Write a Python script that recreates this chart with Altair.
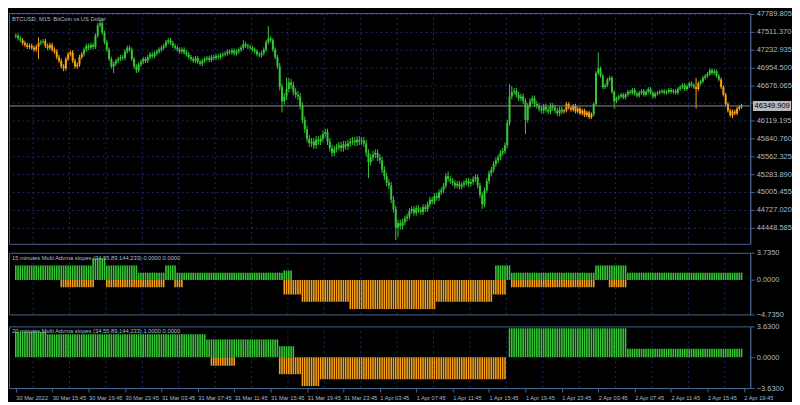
import altair as alt
import pandas as pd

# ---------------- data ----------------
first_open = 47440
closes = [
    47452, 47408, 47379,
    47335, 47305, 47276, 47291, 47261, 47232, 47276,
    47335,
    47349, 47364,
    47291, 47261, 47305, 47232, 47202,
    47114, 47056, 46968, 46938,
    47085, 47158, 47188,
    47056, 46968, 46997,
    47114, 47158,
    47232, 47291, 47261, 47305, 47276,
    47452, 47613, 47643,
    47496, 47349, 47232,
    47085, 46968, 47012, 47056,
    47085, 47114, 47100,
    47202, 47261, 47232,
    47085, 46968, 46909,
    46997, 47041, 47085, 47056,
    47114, 47158, 47129, 47173,
    47202, 47232, 47261, 47291,
    47349, 47379, 47335,
    47291, 47261, 47232, 47202, 47232, 47188, 47158,
    47114, 47085, 47056, 47100, 47041, 47012,
    47056, 47085, 47100, 47070, 47114, 47100, 47129, 47114, 47144, 47158,
    47173, 47202, 47188, 47217, 47173, 47202, 47232, 47261,
    47320, 47291, 47276, 47261, 47232, 47202,
    47158, 47144, 47173, 47232,
    47349, 47408, 47379,
    47232, 47114, 46968,
    46645, 46424, 46498,
    46615, 46718, 46674,
    46571, 46527, 46498,
    46351, 46131, 45984,
    45837, 45764, 45793, 45734, 45823,
    45793, 45837, 45911, 45940, 45793,
    45690, 45617, 45676,
    45705, 45734, 45690, 45749, 45720,
    45764, 45793, 45808, 45778, 45823, 45793, 45808, 45764,
    45617, 45470, 45544,
    45588, 45617, 45544, 45500,
    45353, 45250, 45147, 45103,
    44883, 44736,
    44443, 44516,
    44472, 44531, 44589, 44619,
    44707, 44736, 44677, 44751, 44722, 44692, 44766, 44736,
    44810, 44883, 44854, 44942, 44912, 45000, 45030, 45103,
    45250, 45206, 45177,
    45147, 45103, 45133, 45089, 45118, 45147, 45177, 45133, 45162,
    45206, 45235,
    45103, 44956, 44810,
    45030, 45177, 45294, 45353, 45441, 45500,
    45544, 45617, 45646, 45734,
    46087, 46498,
    46571, 46586,
    46527, 46468, 46498, 46424,
    46131,
    46351, 46424, 46468, 46380,
    46351, 46307, 46278, 46336, 46292, 46263, 46351,
    46322, 46278, 46234, 46292, 46263,
    46278, 46380, 46322, 46292, 46351, 46263, 46307, 46234, 46278, 46204, 46248, 46175, 46219,
    46380,
    46865, 46938, 46821,
    46645, 46674,
    46762, 46791,
    46571, 46424,
    46468, 46498, 46527, 46483,
    46527, 46571, 46557, 46601, 46542, 46512, 46557, 46586, 46527, 46571, 46615, 46557, 46498, 46542,
    46557, 46571, 46586, 46557, 46571, 46601, 46571, 46586, 46557, 46615,
    46645, 46674, 46615, 46659, 46703, 46674, 46645,
    46615, 46703,
    46733, 46791, 46821, 46850, 46909, 46865, 46894, 46821, 46762,
    46645, 46527, 46380, 46278,
    46204, 46263, 46234, 46307, 46336, 46349.909,
]
# notable wick extremes
wick_highs = {10: 47423, 36: 47650, 37: 47702, 67: 47408, 100: 47379, 111: 47599,
              119: 46791, 120: 46791, 136: 45984, 190: 45323, 217: 46689, 218: 46660,
              256: 47188, 299: 46791, 305: 46938}
wick_lows = {10: 47085, 21: 46894, 43: 46865, 53: 46865, 117: 46248, 155: 45221,
             167: 44252, 168: 44300, 205: 44736, 224: 45911, 263: 46307, 299: 46307,
             315: 46160}
# typical wick length (price units) per stretch of candles (start, end, length)
wick_runs = [(0, 115, 35), (116, 170, 55), (171, 215, 45), (216, 240, 45), (241, 319, 30)]
# colour state runs of the candles (start, end, state)
candle_runs = [(0, 2, "g"), (3, 10, "o"), (11, 12, "g"), (13, 29, "o"), (30, 240, "g"),
               (241, 253, "o"), (254, 298, "g"), (299, 300, "o"), (301, 309, "g"),
               (310, 319, "o")]

last_price = 46349.909
price_ticks = [47789.805, 47511.370, 47232.935, 46954.500, 46676.065, 46397.630,
               46119.195, 45840.760, 45562.325, 45283.890, 45005.455, 44727.020, 44448.585]

# sub-window histograms (start, end, value)
up1_runs = [(0, 33, 2), (34, 39, 3), (40, 53, 2), (54, 65, 1), (66, 70, 2), (71, 117, 1),
            (118, 121, 1.3), (211, 217, 2), (218, 254, 1), (255, 268, 2), (269, 319, 1)]
dn1_runs = [(20, 34, -1), (40, 65, -1), (70, 73, -1), (118, 125, -2), (126, 146, -3),
            (147, 184, -4), (185, 209, -3), (210, 215, -2), (218, 254, -1), (261, 268, -1)]
up2_runs = [(0, 13, 3), (14, 83, 2.7), (84, 115, 2.1), (116, 122, 1.3), (217, 268, 3.4),
            (269, 319, 1)]
dn2_runs = [(86, 96, -1), (116, 125, -2), (126, 133, -3.4), (134, 215, -2.6)]

sub1_ticks = [3.735, 0.0, -4.735]
sub2_ticks = [3.63, 0.0, -3.63]
sub1_title = "15 minutes Multi Advma slopes (34,55,89,144,233) 0.0000 0.0000"
sub2_title = "20 minutes Multi Advma slopes (34,55,89,144,233) 1.0000 0.0000"
main_title = "BTCUSD, M15:  BitCoin vs US Dollar"

x_labels = ["30 Mar 2022", "30 Mar 15:45", "30 Mar 19:45", "30 Mar 23:45", "31 Mar 03:45",
            "31 Mar 07:45", "31 Mar 11:45", "31 Mar 15:45", "31 Mar 19:45", "31 Mar 23:45",
            "1 Apr 03:45", "1 Apr 07:45", "1 Apr 11:45", "1 Apr 15:45", "1 Apr 19:45",
            "1 Apr 23:45", "2 Apr 03:45", "2 Apr 07:45", "2 Apr 11:45", "2 Apr 15:45",
            "2 Apr 19:45"]
x_label_pos = [16 * k for k in range(len(x_labels))]
grid_pos = [7.6 + 16 * k for k in range(20)]

# ---------------- style ----------------
W = 745
H_MAIN = 232
H_SUB = 62
BG = "#000000"
FRAME = "#46668c"
GRID = "#1c2a66"
TEXT = "#a8bad0"
GREEN = "#34c634"
ORANGE = "#f7a214"
H_GREEN = "#3cbf2c"
H_ORANGE = "#e4860e"
FONT = "Liberation Sans"
FS = 7.5        # price labels
FS_X = 5.7      # time labels
FS_T = 5.8      # window titles

# ---------------- frames ----------------
n = len(closes)


def expand(runs, default=0.0):
    vals = [default] * n
    for s, e, v in runs:
        for k in range(s, e + 1):
            vals[k] = v
    return vals


opens = [first_open] + closes[:-1]
state = expand(candle_runs, "")
wick = expand(wick_runs)
highs = [max(max(opens[k], closes[k]) + wick[k], wick_highs.get(k, 0)) for k in range(n)]
lows = [min(min(opens[k], closes[k]) - wick[k], wick_lows.get(k, 10 ** 9)) for k in range(n)]
candles = pd.DataFrame({"i": list(range(n)), "open": opens, "close": closes,
                        "high": highs, "low": lows, "state": state})


def hist_frame(up_runs, dn_runs):
    rows = []
    for kind, runs in (("up", up_runs), ("dn", dn_runs)):
        for k, v in enumerate(expand(runs)):
            if v != 0:
                rows.append({"i": k, "v": v, "z": 0.0, "kind": kind})
    return pd.DataFrame(rows)


grid_df = pd.DataFrame({"g": grid_pos})
xs = alt.Scale(domain=[-0.8, 320.6], nice=False, zero=False)
cstate = alt.Color("state:N", scale=alt.Scale(domain=["g", "o"], range=[GREEN, ORANGE]), legend=None)

axis_common = dict(domainColor=FRAME, tickColor=FRAME, labelColor=TEXT, labelFont=FONT,
                   tickSize=4, labelPadding=2, title=None, labelOverlap=False)

price_axis = alt.Axis(orient="right", values=price_ticks, grid=True, gridColor=GRID,
                      gridDash=[2, 3], zindex=0, labelFontSize=FS,
                      labelExpr="abs(datum.value - 46397.63) < 0.01 ? '' : format(datum.value, '.3f')",
                      **axis_common)
ys = alt.Scale(domain=[44193, 47805], nice=False, zero=False)
Xn = alt.X("i:Q", scale=xs, axis=None)

vgrid = alt.Chart(grid_df).mark_rule(color=GRID, strokeDash=[2, 3], strokeWidth=1).encode(
    x=alt.X("g:Q", scale=xs, axis=None))

wicks = alt.Chart(candles).mark_rule(strokeWidth=1).encode(
    x=Xn, y=alt.Y("low:Q", scale=ys, axis=price_axis), y2="high:Q", color=cstate)
bodies = alt.Chart(candles).mark_bar(size=2).encode(
    x=Xn, y=alt.Y("open:Q", scale=ys, axis=price_axis), y2="close:Q", color=cstate)

lp = pd.DataFrame({"p": [last_price], "t": [f"{last_price:.3f}"]})
pline = alt.Chart(lp).mark_rule(color="#8c8c8c", strokeWidth=1).encode(
    y=alt.Y("p:Q", scale=ys, axis=price_axis))
pbox = alt.Chart(lp).mark_point(shape="M-1,-0.26H1V0.26H-1Z", size=1480, filled=True,
                                color="#b8b8b8", opacity=1).encode(
    x=alt.value(W + 22), y=alt.Y("p:Q", scale=ys, axis=price_axis))
ptext = alt.Chart(lp).mark_text(font=FONT, fontSize=FS, color="#000000", align="center",
                                baseline="middle").encode(
    x=alt.value(W + 22), y=alt.Y("p:Q", scale=ys, axis=price_axis), text="t:N")

tt = pd.DataFrame({"t": [main_title]})
mtitle = alt.Chart(tt).mark_text(font=FONT, fontSize=FS_T, color=TEXT, align="left",
                                 baseline="top").encode(x=alt.value(3), y=alt.value(3), text="t:N")

main = alt.layer(vgrid, wicks, bodies, pline, mtitle, pbox, ptext).properties(
    width=W, height=H_MAIN)


def sub_panel(df, ticks, title, show_x):
    dom = [ticks[2], ticks[0]]
    ysub = alt.Scale(domain=dom, nice=False, zero=False)
    yaxis = alt.Axis(orient="right", values=ticks, format=".4f", grid=False, labelFontSize=FS,
                     **axis_common)
    if show_x:
        lab_arr = "[" + ",".join("'" + s + "'" for s in x_labels) + "]"
        xaxis = alt.Axis(values=x_label_pos, labelExpr=lab_arr + "[round(datum.value / 16)]",
                         labelAlign="left", labelFlush=False, grid=False, labelFontSize=FS_X,
                         labelBaseline="top", **axis_common)
    else:
        xaxis = None
    g = alt.Chart(grid_df).mark_rule(color=GRID, strokeDash=[2, 3], strokeWidth=1).encode(
        x=alt.X("g:Q", scale=xs, axis=xaxis))
    bars = alt.Chart(df).mark_bar(size=1.6).encode(
        x=alt.X("i:Q", scale=xs, axis=xaxis),
        y=alt.Y("v:Q", scale=ysub, axis=yaxis), y2="z:Q",
        color=alt.Color("kind:N", scale=alt.Scale(domain=["up", "dn"], range=[H_GREEN, H_ORANGE]),
                        legend=None))
    t = alt.Chart(pd.DataFrame({"t": [title]})).mark_text(
        font=FONT, fontSize=FS_T, color=TEXT, align="left", baseline="top").encode(
        x=alt.value(3), y=alt.value(2), text="t:N")
    return alt.layer(g, bars, t).properties(width=W, height=H_SUB)


p2 = sub_panel(hist_frame(up1_runs, dn1_runs), sub1_ticks, sub1_title, False)
p3 = sub_panel(hist_frame(up2_runs, dn2_runs), sub2_ticks, sub2_title, True)

chart = alt.vconcat(main, p2, p3, spacing=3).properties(
    background=BG, padding={"left": 0, "top": 0, "right": 0, "bottom": 0}
).configure_view(stroke=FRAME, strokeWidth=1, fill=BG).configure_axis(labelOverlap=False)

chart.save("out.html", embed_options={"renderer": "svg", "actions": False})
